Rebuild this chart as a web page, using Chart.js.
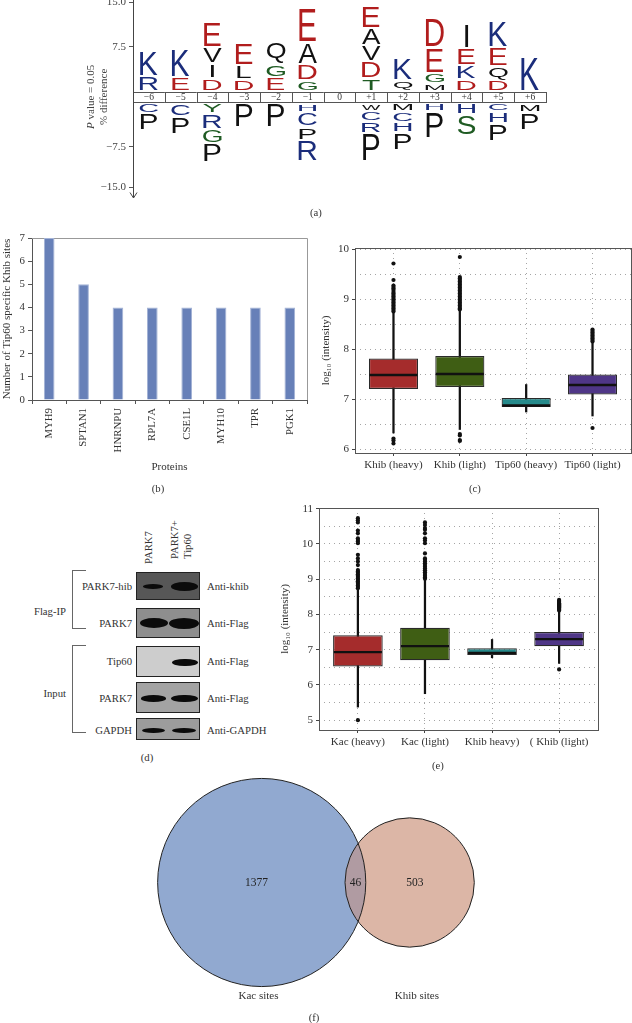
<!DOCTYPE html>
<html><head><meta charset="utf-8">
<script src="https://cdn.jsdelivr.net/npm/chart.js@4.4.1/dist/chart.umd.min.js"></script>
<style>
html,body{margin:0;padding:0;background:#fff;}
#page{position:relative;width:632px;height:1023px;overflow:hidden;font-family:"Liberation Serif","Times New Roman",serif;color:#333;}
canvas{position:absolute;}
.t{position:absolute;white-space:nowrap;font-size:10.7px;line-height:12px;}
.c{transform:translate(-50%,-50%);}
.r{text-align:right;transform:translateY(-50%);}
.l{transform:translateY(-50%);}
.blot{position:absolute;left:136px;width:64px;box-sizing:border-box;border:1px solid #222;overflow:hidden;}
.band{position:absolute;background:#0b0b0b;border-radius:50%;filter:blur(0.5px);}
.brk{position:absolute;left:72px;width:14px;box-sizing:border-box;border:1px solid #666;border-right:none;}
.rot{position:absolute;transform:rotate(-90deg);transform-origin:0 0;white-space:nowrap;font-size:10.7px;line-height:13px;}
</style></head>
<body><div id="page">
<canvas id="logo" width="632" height="208" style="left:0;top:0"></canvas>
<canvas id="bar" width="316" height="275" style="left:0;top:225px"></canvas>
<canvas id="boxc" width="316" height="275" style="left:316px;top:225px"></canvas>
<canvas id="boxe" width="362" height="275" style="left:270px;top:500px"></canvas>
<canvas id="venn" width="632" height="248" style="left:0;top:775px"></canvas>

<!-- panel (d): western blot -->
<div class="rot" style="left:142px;top:564px;">PARK7</div>
<div class="rot" style="left:168px;top:559px;">PARK7+<br>Tip60</div>

<div class="blot" style="top:572px;height:28px;background:#575757;">
  <div class="band" style="left:6px;top:11px;width:20px;height:4.5px;"></div>
  <div class="band" style="left:34px;top:9px;width:27px;height:8.5px;"></div>
</div>
<div class="blot" style="top:608px;height:30px;background:#8e8e8e;">
  <div class="band" style="left:3px;top:9px;width:28px;height:10px;"></div>
  <div class="band" style="left:32px;top:8.5px;width:30px;height:11px;"></div>
</div>
<div class="blot" style="top:646px;height:31px;background:#cdcdcd;">
  <div class="band" style="left:35px;top:11.5px;width:26px;height:7.5px;"></div>
</div>
<div class="blot" style="top:682px;height:31px;background:#a3a3a3;">
  <div class="band" style="left:4px;top:12px;width:25px;height:6.5px;"></div>
  <div class="band" style="left:34px;top:11.5px;width:27px;height:7.5px;"></div>
</div>
<div class="blot" style="top:718px;height:22px;background:#9c9c9c;">
  <div class="band" style="left:5px;top:8.5px;width:23px;height:5px;"></div>
  <div class="band" style="left:35px;top:8.5px;width:24px;height:5px;"></div>
</div>

<div class="t r" style="left:0;width:132px;top:586px;">PARK7-hib</div>
<div class="t r" style="left:0;width:132px;top:623px;">PARK7</div>
<div class="t r" style="left:0;width:132px;top:661px;">Tip60</div>
<div class="t r" style="left:0;width:132px;top:697.5px;">PARK7</div>
<div class="t r" style="left:0;width:132px;top:730px;">GAPDH</div>
<div class="t l" style="left:207px;top:586px;">Anti-khib</div>
<div class="t l" style="left:207px;top:623px;">Anti-Flag</div>
<div class="t l" style="left:207px;top:661px;">Anti-Flag</div>
<div class="t l" style="left:207px;top:697.5px;">Anti-Flag</div>
<div class="t l" style="left:207px;top:730px;">Anti-GAPDH</div>
<div class="brk" style="top:570px;height:59px;"></div>
<div class="brk" style="top:645px;height:88px;"></div>
<div class="t r" style="left:0;width:66px;top:611px;">Flag-IP</div>
<div class="t r" style="left:0;width:66px;top:693px;">Input</div>

<div class="t c" style="left:316px;top:212px;">(a)</div>
<div class="t c" style="left:158px;top:488px;">(b)</div>
<div class="t c" style="left:475px;top:488px;">(c)</div>
<div class="t c" style="left:147px;top:757px;">(d)</div>
<div class="t c" style="left:438px;top:765px;">(e)</div>
<div class="t c" style="left:314px;top:1017px;">(f)</div>
</div>
<script>
// ---------------- DATA ----------------
// (a) sequence logo: letters listed from the position band outward, heights in % difference units
const logoPositions = ['\u22126','\u22125','\u22124','\u22123','\u22122','\u22121','0','+1','+2','+3','+4','+5','+6'];
const logoTopLetters = ['RK','EK','DIVE','DLE','EGQ','GDAE','','TDVAE','QK','MGED','DKEI','DQEK','K'];
const logoTopHeights = [[1.9,3.5],[1.65,3.75],[1.6,1.75,2.0,3.5],[1.35,1.75,3.1],[1.75,1.6,3.0],[1.25,2.0,2.9,4.7],[],[1.5,2.2,2.0,2.2,3.0],[1.3,3.0],[0.75,1.1,3.5,4.0],[1.35,1.7,2.2,3.2],[1.25,1.7,2.4,3.7],[4.75]];
const logoBottomLetters = ['CP','CP','YRGP','P','P','HCPR','','WCRP','MCHP','HP','HS','CHP','MP'];
const logoBottomHeights = [[1.15,2.2],[1.65,2.25],[1.1,2.0,1.75,2.4],[3.25],[3.25],[1.0,1.75,1.6,2.8],[],[0.8,1.25,1.3,3.8],[0.9,1.25,1.1,2.2],[0.9,3.6],[1.3,2.75],[0.9,1.35,2.3],[1.0,2.25]];
const logoTickLabels = ['15.0','7.5','\u22127.5','\u221215.0'];

// (b) bar chart
const barCategories = ['MYH9','SPTAN1','HNRNPU','RPL7A','CSE1L','MYH10','TPR','PGK1'];
const barValues = [7,5,4,4,4,4,4,4];

// (c) box plot
const cCategories = ['Khib (heavy)','Khib (light)','Tip60 (heavy)','Tip60 (light)'];
const cQ1 = [7.21,7.25,6.85,7.10];
const cMedian = [7.49,7.51,6.88,7.29];
const cQ3 = [7.82,7.87,7.03,7.50];
const cWhiskerLow = [6.33,6.40,6.75,6.67];
const cWhiskerHigh = [8.73,8.77,7.30,8.13];
const cOutliers = [
  [9.72,9.39,9.28,9.25,9.22,9.19,9.15,9.12,9.09,9.06,9.03,9.0,8.97,8.94,8.91,8.88,8.85,8.82,8.79,8.76,6.22,6.18,6.12],
  [9.85,9.45,9.42,9.39,9.36,9.33,9.3,9.27,9.24,9.21,9.18,9.15,9.12,9.09,9.06,9.03,9.0,8.97,8.94,8.91,8.88,8.85,8.82,8.8,6.31,6.28,6.19,6.17],
  [],
  [8.40,8.37,8.34,8.31,8.28,8.25,8.22,8.19,8.16,6.43]
];

// (e) box plot
const eCategories = ['Kac (heavy)','Kac (light)','Khib heavy)','( Khib (light)'];
const eQ1 = [6.52,6.70,6.85,7.10];
const eMedian = [6.93,7.10,6.91,7.30];
const eQ3 = [7.41,7.62,7.04,7.50];
const eWhiskerLow = [5.37,5.75,6.77,6.61];
const eWhiskerHigh = [8.72,8.97,7.29,8.08];
const eOutliers = [
  [10.73,10.67,10.61,10.38,10.30,10.16,10.11,10.07,10.02,9.69,9.59,9.5,9.4,9.26,9.22,9.18,9.14,9.1,9.06,9.02,8.98,8.94,8.9,8.86,8.82,8.78,8.74,5.0],
  [10.61,10.54,10.45,10.4,10.3,10.16,10.1,10.02,9.73,9.59,9.55,9.5,9.45,9.4,9.35,9.3,9.25,9.2,9.15,9.1,9.05,9.01],
  [],
  [8.41,8.38,8.35,8.32,8.29,8.26,8.23,8.2,8.17,8.14,8.11,6.44]
];

// (f) Venn
const vennSets = ['Kac sites','Khib sites'];
const vennCounts = [1377,46,503]; // only A, overlap, only B

// ---------------- STYLE ----------------
Chart.defaults.font.family = '"Liberation Serif","Times New Roman",serif';
Chart.defaults.color = '#333';
const SERIF = '"Liberation Serif","Times New Roman",serif';
const boxColors = ['#a52c2c','#3f5e14','#268a8b','#4f3687'];

// ---------------- (a) LOGO ----------------
const LOGO = {startTop:1.0, startBottom:-1.1, gap:0.4, bandTop:0.66, bandBottom:-0.84, ticks:[14.2,7.5,-7.5,-13.5]};
function letterColor(ch){
  if ('ED'.includes(ch)) return '#b11d1d';
  if ('KRHC'.includes(ch)) return '#1b2d7b';
  if ('GTSY'.includes(ch)) return '#1f5b23';
  return '#111';
}
function drawLetter(ctx, ch, cx, yTop, yBot){
  const h = yBot - yTop; if (h <= 0.5) return;
  ctx.save();
  ctx.font = '100px "Liberation Sans", Arial, sans-serif';
  ctx.textAlign = 'left'; ctx.textBaseline = 'alphabetic';
  const m = ctx.measureText(ch);
  const L = m.actualBoundingBoxLeft, R = m.actualBoundingBoxRight;
  const A = m.actualBoundingBoxAscent, D = m.actualBoundingBoxDescent;
  const bw = L + R, bh = A + D;
  const w = Math.min(bw * 0.3, 18.5);
  ctx.translate(cx - w/2, yTop);
  ctx.scale(w / bw, h / bh);
  ctx.fillStyle = letterColor(ch);
  ctx.fillText(ch, L, A);
  ctx.restore();
}
const logoPlugin = {
  id:'logoPlugin',
  afterDraw(chart){
    const {ctx, scales:{x, y}, chartArea} = chart;
    const bt = y.getPixelForValue(LOGO.bandTop), bb = y.getPixelForValue(LOGO.bandBottom);
    ctx.save();
    ctx.strokeStyle = '#555'; ctx.lineWidth = 1;
    ctx.font = '9.5px ' + SERIF;
    ctx.textAlign = 'center'; ctx.textBaseline = 'middle';
    logoPositions.forEach((lab, i) => {
      const x0 = x.getPixelForValue(i - 0.5), x1 = x.getPixelForValue(i + 0.5);
      ctx.fillStyle = '#fff'; ctx.fillRect(x0, bt, x1 - x0, bb - bt);
      ctx.strokeRect(Math.round(x0)+0.5, Math.round(bt)+0.5, Math.round(x1-x0), Math.round(bb-bt));
      ctx.fillStyle = '#333';
      ctx.fillText(lab, (x0 + x1)/2, (bt + bb)/2 + 0.5);
    });
    logoPositions.forEach((lab, i) => {
      const cx = x.getPixelForValue(i);
      let v = LOGO.startTop;
      [...logoTopLetters[i]].forEach((ch, k) => {
        const v1 = v + logoTopHeights[i][k];
        drawLetter(ctx, ch, cx, y.getPixelForValue(v1), y.getPixelForValue(v));
        v = v1 + LOGO.gap;
      });
      v = LOGO.startBottom;
      [...logoBottomLetters[i]].forEach((ch, k) => {
        const v1 = v - logoBottomHeights[i][k];
        drawLetter(ctx, ch, cx, y.getPixelForValue(v), y.getPixelForValue(v1));
        v = v1 - LOGO.gap;
      });
    });
    const ax = Math.round(chartArea.left) + 0.5;
    ctx.strokeStyle = '#444'; ctx.lineWidth = 1;
    ctx.beginPath(); ctx.moveTo(ax, 0); ctx.lineTo(ax, 198); ctx.stroke();
    ctx.beginPath(); ctx.moveTo(ax - 3.5, 192.5); ctx.lineTo(ax, 198); ctx.lineTo(ax + 3.5, 192.5); ctx.stroke();
    const yc = y.getPixelForValue(0);
    ctx.fillStyle = '#444'; ctx.textBaseline = 'middle';
    ctx.save(); ctx.translate(91, yc); ctx.rotate(-Math.PI/2);
    const fI = 'italic 11px ' + SERIF, fN = '11px ' + SERIF;
    ctx.font = fI; const wP = ctx.measureText('P').width;
    ctx.font = fN; const rest = ' value = 0.05'; const wR = ctx.measureText(rest).width;
    const start = -(wP + wR)/2;
    ctx.textAlign = 'left';
    ctx.font = fI; ctx.fillText('P', start, 0);
    ctx.font = fN; ctx.fillText(rest, start + wP, 0);
    ctx.restore();
    ctx.save(); ctx.translate(104, yc); ctx.rotate(-Math.PI/2);
    ctx.font = fN; ctx.textAlign = 'center'; ctx.fillText('% difference', 0, 0);
    ctx.restore();
    ctx.restore();
  }
};
new Chart(document.getElementById('logo'), {
  type:'scatter',
  data:{datasets:[]},
  options:{
    responsive:false, animation:false, devicePixelRatio:1,
    layout:{padding:{left:93, right:86, top:2, bottom:21}, autoPadding:false},
    plugins:{legend:{display:false}, tooltip:{enabled:false}},
    scales:{
      x:{type:'linear', min:-0.5, max:logoPositions.length - 0.5, display:false},
      y:{type:'linear', min:-13.5, max:14.2,
        afterBuildTicks(s){ s.ticks = LOGO.ticks.map(v => ({value:v})); },
        afterFit(s){ s.width = 40; s.paddingTop = 0; s.paddingBottom = 0; },
        ticks:{callback:(v, i) => logoTickLabels[i], padding:3, color:'#444', font:{size:11}},
        grid:{drawOnChartArea:false, tickLength:4, color:'#555'},
        border:{display:false}
      }
    }
  },
  plugins:[logoPlugin]
});

// ---------------- (b) BAR ----------------
const barFrame = {
  id:'barFrame',
  beforeDatasetsDraw(chart){
    const {ctx, chartArea:a} = chart;
    ctx.save(); ctx.strokeStyle = '#999'; ctx.lineWidth = 1;
    ctx.beginPath();
    ctx.moveTo(Math.round(a.left), Math.round(a.top)+0.5); ctx.lineTo(Math.round(a.right)+0.5, Math.round(a.top)+0.5);
    ctx.lineTo(Math.round(a.right)+0.5, Math.round(a.bottom));
    ctx.stroke(); ctx.restore();
  }
};
new Chart(document.getElementById('bar'), {
  type:'bar',
  data:{labels:barCategories, datasets:[{data:barValues, backgroundColor:'#6780b8', borderColor:'#a4b3d6', borderWidth:1, categoryPercentage:1, barPercentage:0.31}]},
  options:{
    responsive:false, animation:false, devicePixelRatio:1,
    layout:{padding:{left:0, right:9, top:13, bottom:0}, autoPadding:false},
    plugins:{legend:{display:false}, tooltip:{enabled:false}},
    scales:{
      x:{
        grid:{offset:true, drawOnChartArea:false, tickLength:4, color:'#555'},
        border:{color:'#555'},
        ticks:{minRotation:90, maxRotation:90, autoSkip:false, padding:4, color:'#333', font:{size:10.8}},
        title:{display:true, text:'Proteins', color:'#333', font:{size:11}, padding:{top:0, bottom:26}},
        afterFit(s){ s.height = 100; s.paddingLeft = 0; s.paddingRight = 0; }
      },
      y:{
        min:0, max:7,
        ticks:{stepSize:1, padding:3, color:'#333', font:{size:10.8}},
        grid:{drawOnChartArea:false, tickLength:4, color:'#555'},
        border:{color:'#555'},
        title:{display:true, text:'Number of Tip60 specific Khib sites', color:'#333', font:{size:11}, padding:{top:1, bottom:0}},
        afterFit(s){ s.width = 32; s.paddingTop = 0; s.paddingBottom = 0; }
      }
    }
  },
  plugins:[barFrame]
});

// ---------------- (c), (e) BOX PLOTS ----------------
const boxFrame = {
  id:'boxFrame',
  afterDraw(chart){
    const {ctx, chartArea:a} = chart;
    ctx.save(); ctx.strokeStyle = '#555'; ctx.lineWidth = 1;
    ctx.strokeRect(Math.round(a.left)+0.5, Math.round(a.top)+0.5, Math.round(a.right - a.left), Math.round(a.bottom - a.top));
    ctx.restore();
  }
};
function boxChart(id, cats, q1, med, q3, wlo, whi, outl, g){
  const gridOpts = {
    color:'#a5a5a5', lineWidth:1, tickLength:3,
    tickColor:(c) => (c.tick && Number.isInteger(c.tick.value)) ? '#444' : 'rgba(0,0,0,0)',
    tickBorderDash:[], drawTicks:true
  };
  return new Chart(document.getElementById(id), {
    type:'bar',
    data:{datasets:[
      {type:'bar', data:cats.map((c,i) => ({x:i+1, y:[wlo[i], whi[i]]})), backgroundColor:'#111', barThickness:1.6, grouped:false, order:3},
      {type:'bar', data:cats.map((c,i) => ({x:i+1, y:[q1[i], q3[i]]})), backgroundColor:boxColors, borderColor:'#2a2a2a', borderWidth:1.2, borderSkipped:false, barPercentage:0.74, categoryPercentage:1, grouped:false, order:2},
      {type:'scatter', data:cats.map((c,i) => ({x:i+1, y:med[i]})), pointStyle:'line', pointRadius:24, pointBorderColor:'#111', pointBorderWidth:2.4, order:1},
      {type:'scatter', data:outl.flatMap((arr,i) => arr.map(v => ({x:i+1, y:v}))), pointRadius:2.1, pointBackgroundColor:'#111', pointBorderWidth:0, order:0}
    ]},
    options:{
      responsive:false, animation:false, devicePixelRatio:1,
      layout:{padding:{left:0, right:g.padRight, top:g.padTop, bottom:0}, autoPadding:false},
      plugins:{legend:{display:false}, tooltip:{enabled:false}},
      scales:{
        x:{type:'linear', min:0.42, max:4.58, offset:false,
          afterBuildTicks(s){ s.ticks = cats.map((c,i) => ({value:i+1})); },
          afterFit(s){ s.height = g.xHeight; s.paddingLeft = 0; s.paddingRight = 0; },
          ticks:{callback:(v) => cats[Math.round(v)-1], padding:3, color:'#333', font:{size:11}, maxRotation:0, autoSkip:false},
          grid:Object.assign({offset:false}, gridOpts),
          border:{display:false, dash:[1,4]}
        },
        y:{type:'linear', min:g.yMin, max:g.yMax, beginAtZero:false,
          ticks:{callback:(v) => Number.isInteger(v) ? String(v) : '', padding:3, color:'#333', font:{size:11}},
          afterBuildTicks(s){
            const t = [];
            for (let k = Math.ceil(s.min*2); k <= Math.floor(s.max*2); k++) t.push({value:k/2});
            s.ticks = t;
          },
          afterFit(s){ s.width = g.yWidth; s.paddingTop = 0; s.paddingBottom = 0; },
          grid:gridOpts,
          border:{display:false, dash:[1,4]},
          title:{display:true, text:'log\u2081\u2080 (intensity)', color:'#333', font:{size:11}, padding:{top:g.titlePad, bottom:0}}
        }
      }
    },
    plugins:[boxFrame]
  });
}
boxChart('boxc', cCategories, cQ1, cMedian, cQ3, cWhiskerLow, cWhiskerHigh, cOutliers,
  {padRight:1, padTop:23, xHeight:47, yWidth:39, yMin:5.93, yMax:10.03, titlePad:3.4});
boxChart('boxe', eCategories, eQ1, eMedian, eQ3, eWhiskerLow, eWhiskerHigh, eOutliers,
  {padRight:34, padTop:8, xHeight:45, yWidth:49, yMin:4.72, yMax:11.02, titlePad:8.4});

// ---------------- (f) VENN ----------------
function lensArea(d, r1, r2){
  if (d >= r1 + r2) return 0;
  if (d <= Math.abs(r1 - r2)) return Math.PI * Math.min(r1, r2) ** 2;
  const a1 = Math.acos((d*d + r1*r1 - r2*r2) / (2*d*r1));
  const a2 = Math.acos((d*d + r2*r2 - r1*r1) / (2*d*r2));
  return r1*r1*(a1 - Math.sin(2*a1)/2) + r2*r2*(a2 - Math.sin(2*a2)/2);
}
const rA = Math.sqrt((vennCounts[0] + vennCounts[1]) / Math.PI);
const rB = Math.sqrt((vennCounts[2] + vennCounts[1]) / Math.PI);
let lo = Math.abs(rA - rB), hi = rA + rB;
for (let k = 0; k < 60; k++){ const mid = (lo + hi)/2; if (lensArea(mid, rA, rB) > vennCounts[1]) lo = mid; else hi = mid; }
const dAB = (lo + hi)/2;
const VPX = 4.89; // pixels per unit
const vennPlugin = {
  id:'vennPlugin',
  afterDraw(chart){
    const {ctx, scales:{x, y}} = chart;
    const cxA = x.getPixelForValue(0), cxB = x.getPixelForValue(dAB), cy = y.getPixelForValue(0);
    const RA = x.getPixelForValue(rA) - cxA, RB = x.getPixelForValue(rB) - x.getPixelForValue(0);
    ctx.save();
    ctx.fillStyle = '#91a9d0'; ctx.beginPath(); ctx.arc(cxA, cy, RA, 0, 2*Math.PI); ctx.fill();
    ctx.fillStyle = '#dcb6a6'; ctx.beginPath(); ctx.arc(cxB, cy, RB, 0, 2*Math.PI); ctx.fill();
    ctx.save(); ctx.beginPath(); ctx.arc(cxA, cy, RA, 0, 2*Math.PI); ctx.clip();
    ctx.fillStyle = '#b09ba2'; ctx.beginPath(); ctx.arc(cxB, cy, RB, 0, 2*Math.PI); ctx.fill();
    ctx.restore();
    ctx.strokeStyle = '#222'; ctx.lineWidth = 1;
    ctx.beginPath(); ctx.arc(cxA, cy, RA, 0, 2*Math.PI); ctx.stroke();
    ctx.beginPath(); ctx.arc(cxB, cy, RB, 0, 2*Math.PI); ctx.stroke();
    const lensL = cxB - RB, lensR = cxA + RA;
    const xA = (cxA + (cxA - RA + lensL)/2)/2;
    const xB = (cxB + (lensR + cxB + RB)/2)/2;
    ctx.fillStyle = '#222'; ctx.font = '11.5px ' + SERIF; ctx.textAlign = 'center'; ctx.textBaseline = 'middle';
    ctx.fillText(String(vennCounts[0]), xA, cy);
    ctx.fillText(String(vennCounts[1]), (lensL + lensR)/2, cy);
    ctx.fillText(String(vennCounts[2]), xB, cy);
    ctx.font = '11px ' + SERIF; ctx.fillStyle = '#333';
    ctx.fillText(vennSets[0], xA + 2, cy + RA + 10);
    ctx.fillText(vennSets[1], xB + 2, cy + RA + 10);
    ctx.restore();
  }
};
new Chart(document.getElementById('venn'), {
  type:'scatter',
  data:{datasets:[]},
  options:{
    responsive:false, animation:false, devicePixelRatio:1,
    layout:{padding:0, autoPadding:false},
    plugins:{legend:{display:false}, tooltip:{enabled:false}},
    scales:{
      x:{type:'linear', display:false, min:-261.7/VPX, max:(632-261.7)/VPX},
      y:{type:'linear', display:false, min:-(248-107.5)/VPX, max:107.5/VPX}
    }
  },
  plugins:[vennPlugin]
});
</script>
</body></html>
